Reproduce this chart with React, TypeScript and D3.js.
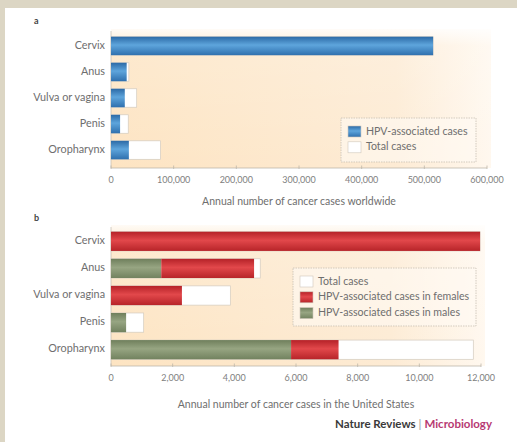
import React from "react";
import * as d3 from "d3";

// Cancer sites shown in both panels
const categories = ["Cervix", "Anus", "Vulva or vagina", "Penis", "Oropharynx"];

// Panel a: annual cases worldwide
const worldHpv = [514000, 25000, 22000, 14500, 28500];
const worldTotal = [514000, 28500, 41000, 27500, 79000];
const worldTicks = [0, 100000, 200000, 300000, 400000, 500000, 600000];

// Panel b: annual cases in the United States
const usMales = [0, 1630, 0, 490, 5840];
const usFemales = [11970, 3010, 2300, 0, 1540];
const usTotal = [11970, 4840, 3870, 1060, 11750];
const usTicks = [0, 2000, 4000, 6000, 8000, 10000, 12000];

const W = 517;
const H = 442;
const FONT = "Lato, 'Open Sans', sans-serif";
const fmt = d3.format(",");

type Seg = { key: string; x0: number; x1: number; fill: string; stroke?: string };

function Panel(props: {
  label: string;
  labelY: number;
  bgTop: number;
  axisY: number;
  titleY: number;
  xMax: number;
  domainMax: number;
  bandTop: number;
  bandBottom: number;
  ticks: number[];
  title: string;
  segments: (i: number) => Seg[];
  legend: { x: number; y: number; w: number; h: number; items: { text: string; fill: string }[] };
}) {
  const x = d3.scaleLinear().domain([0, props.domainMax]).range([111, props.xMax]);
  const y = d3
    .scaleBand<string>()
    .domain(categories)
    .range([props.bandTop, props.bandBottom])
    .paddingInner(0.29)
    .paddingOuter(0);
  const left = x(0);
  const { legend } = props;
  return (
    <g>
      <text x={34} y={props.labelY} fontFamily={FONT} fontWeight={700} fontSize={9} fill="#444">
        {props.label}
      </text>
      <rect
        x={left}
        y={props.bgTop}
        width={props.xMax + 4 - left}
        height={props.axisY - props.bgTop}
        fill="url(#bgGrad)"
      />
      <rect
        x={left}
        y={props.bgTop}
        width={props.xMax + 4 - left}
        height={props.axisY - props.bgTop}
        fill="url(#bgTopFade)"
      />
      <line x1={left} x2={left} y1={props.bgTop + 2} y2={props.axisY} stroke="#c9c2b6" strokeWidth={0.8} />
      {categories.map((c, i) => (
        <g key={c}>
          <text
            x={105}
            y={(y(c) as number) + y.bandwidth() / 2}
            textAnchor="end"
            dominantBaseline="middle"
            fontFamily={FONT}
            fontSize={10.8}
            fill="#6e6e6e"
          >
            {c}
          </text>
          {props.segments(i).map((s) =>
            s.x1 > s.x0 ? (
              <rect
                key={s.key}
                x={x(s.x0)}
                y={y(c)}
                width={x(s.x1) - x(s.x0)}
                height={y.bandwidth()}
                fill={s.fill}
                stroke={s.stroke ?? "none"}
                strokeWidth={0.7}
              />
            ) : null
          )}
        </g>
      ))}
      <line x1={left} x2={props.xMax} y1={props.axisY} y2={props.axisY} stroke="#bdb6aa" strokeWidth={0.8} />
      {props.ticks.map((t) => (
        <g key={t}>
          <line x1={x(t)} x2={x(t)} y1={props.axisY - 2.5} y2={props.axisY + 1} stroke="#bdb6aa" strokeWidth={0.8} />
          <text
            x={x(t)}
            y={props.axisY + 15}
            textAnchor="middle"
            fontFamily={FONT}
            fontSize={9}
            fill="#808080"
          >
            {fmt(t)}
          </text>
        </g>
      ))}
      <text
        x={(left + props.xMax) / 2}
        y={props.titleY}
        textAnchor="middle"
        fontFamily={FONT}
        fontSize={10.5}
        fill="#6e6e6e"
      >
        {props.title}
      </text>
      <rect
        x={legend.x}
        y={legend.y}
        width={legend.w}
        height={legend.h}
        fill="#fffaf3"
        fillOpacity={0.6}
        stroke="#c8c0b4"
        strokeWidth={0.8}
        strokeDasharray="1.5,1"
      />
      {legend.items.map((it, k) => (
        <g key={it.text}>
          <rect
            x={legend.x + 7}
            y={legend.y + 8 + k * 15.8}
            width={13}
            height={11}
            fill={it.fill}
            stroke="#cfc7bb"
            strokeWidth={0.6}
          />
          <text
            x={legend.x + 25}
            y={legend.y + 14 + k * 15.8}
            dominantBaseline="middle"
            fontFamily={FONT}
            fontSize={10.6}
            fill="#6e6e6e"
          >
            {it.text}
          </text>
        </g>
      ))}
    </g>
  );
}

export default function App() {
  return (
    <div style={{ position: "fixed", left: 0, top: 0 }}>
      <svg width={W} height={H} viewBox={`0 0 ${W} ${H}`} style={{ display: "block" }}>
        <defs>
          <linearGradient id="bgGrad" x1="0" y1="0" x2="1" y2="0">
            <stop offset="0" stopColor="#fde4c2" />
            <stop offset="0.75" stopColor="#fdebd4" />
            <stop offset="1" stopColor="#fff8ef" />
          </linearGradient>
          <linearGradient id="bgTopFade" x1="0" y1="0" x2="0" y2="1">
            <stop offset="0" stopColor="#ffffff" stopOpacity={0.85} />
            <stop offset="0.12" stopColor="#ffffff" stopOpacity={0.2} />
            <stop offset="1" stopColor="#ffffff" stopOpacity={0} />
          </linearGradient>
          <linearGradient id="blueGrad" x1="0" y1="0" x2="0" y2="1">
            <stop offset="0" stopColor="#2c6aa6" />
            <stop offset="0.45" stopColor="#5ea5dc" />
            <stop offset="1" stopColor="#2f70ae" />
          </linearGradient>
          <linearGradient id="redGrad" x1="0" y1="0" x2="0" y2="1">
            <stop offset="0" stopColor="#b52228" />
            <stop offset="0.45" stopColor="#e2484b" />
            <stop offset="1" stopColor="#b72429" />
          </linearGradient>
          <linearGradient id="greenGrad" x1="0" y1="0" x2="0" y2="1">
            <stop offset="0" stopColor="#6f7f5c" />
            <stop offset="0.45" stopColor="#97a582" />
            <stop offset="1" stopColor="#72825f" />
          </linearGradient>
        </defs>
        <rect x={0} y={0} width={W} height={H} fill="#ffffff" />
        <rect x={0} y={0} width={W} height={8} fill="#dcd6c4" />
        <rect x={0} y={0} width={5} height={H} fill="#dcd6c4" />

        <Panel
          label="a"
          labelY={24}
          bgTop={29}
          axisY={168}
          titleY={205}
          xMax={487}
          domainMax={600000}
          bandTop={36.7}
          bandBottom={159.3}
          ticks={worldTicks}
          title="Annual number of cancer cases worldwide"
          segments={(i) => [
            { key: "total", x0: 0, x1: worldTotal[i], fill: "#ffffff", stroke: "#d3cbbf" },
            { key: "hpv", x0: 0, x1: worldHpv[i], fill: "url(#blueGrad)" },
          ]}
          legend={{
            x: 341,
            y: 118,
            w: 135,
            h: 44,
            items: [
              { text: "HPV-associated cases", fill: "url(#blueGrad)" },
              { text: "Total cases", fill: "#ffffff" },
            ],
          }}
        />

        <Panel
          label="b"
          labelY={221}
          bgTop={225}
          axisY={366}
          titleY={408}
          xMax={481}
          domainMax={12000}
          bandTop={231.7}
          bandBottom={359.3}
          ticks={usTicks}
          title="Annual number of cancer cases in the United States"
          segments={(i) => [
            { key: "total", x0: 0, x1: usTotal[i], fill: "#ffffff", stroke: "#d3cbbf" },
            { key: "male", x0: 0, x1: usMales[i], fill: "url(#greenGrad)" },
            { key: "female", x0: usMales[i], x1: usMales[i] + usFemales[i], fill: "url(#redGrad)" },
          ]}
          legend={{
            x: 293,
            y: 268,
            w: 183,
            h: 58,
            items: [
              { text: "Total cases", fill: "#ffffff" },
              { text: "HPV-associated cases in females", fill: "url(#redGrad)" },
              { text: "HPV-associated cases in males", fill: "url(#greenGrad)" },
            ],
          }}
        />

        <text x={492} y={428} textAnchor="end" fontFamily={FONT} fontSize={11.5} fontWeight={700}>
          <tspan fill="#3a3a3a">Nature Reviews</tspan>
          <tspan fill="#999" fontWeight={400}> | </tspan>
          <tspan fill="#b73a72">Microbiology</tspan>
        </text>
      </svg>
    </div>
  );
}
